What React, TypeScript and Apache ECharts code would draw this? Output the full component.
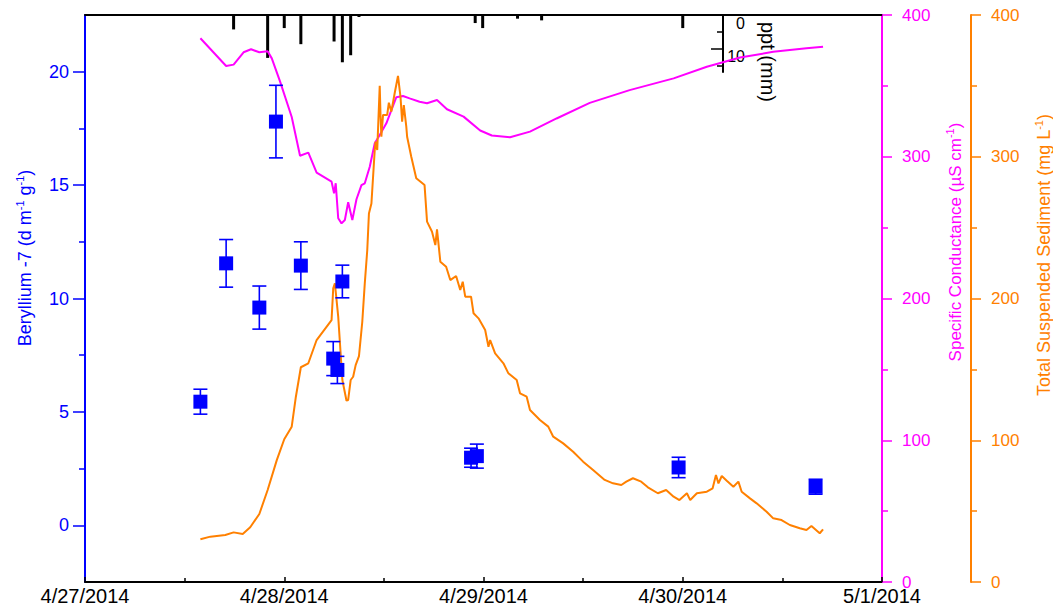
import React, { useEffect, useRef } from "react";
import * as echarts from "echarts";

// x values are hours since 4/27/2014 00:00
const dateLabels = ["4/27/2014", "4/28/2014", "4/29/2014", "4/30/2014", "5/1/2014"];

const beTime = [13.9, 17.0, 21.0, 23.0, 26.0, 29.9, 30.4, 31.0, 46.5, 47.2, 71.5, 88.0];
const beValue = [5.45, 11.55, 9.6, 17.8, 11.45, 7.35, 6.85, 10.75, 2.98, 3.05, 2.55, 1.7];
const beError = [0.55, 1.05, 0.95, 1.6, 1.05, 0.75, 0.6, 0.72, 0.42, 0.53, 0.45, 0.33];

const pptTime = [17.9, 22.0, 24.0, 26.0, 30.0, 31.0, 32.0, 33.0, 47.0, 47.9, 52.1, 55.0, 72.0];
const pptValue = [4.3, 12.8, 3.9, 8.7, 7.9, 14.1, 12.0, 0.6, 2.4, 3.9, 1.1, 1.6, 3.9];

const scTime = [13.9, 17.0, 17.9, 19.1, 20.0, 21.0, 22.0, 22.5, 23.5, 24.9, 25.9, 26.9, 27.9, 29.7, 30.0, 30.2, 30.5, 30.9, 31.3, 31.7, 32.2, 32.7, 33.3, 33.7, 34.3, 34.9, 35.5, 36.3, 37.5, 38.3, 39.1, 40.3, 41.2, 42.4, 43.6, 45.6, 47.6, 49.0, 51.2, 53.6, 56.8, 60.8, 65.6, 70.9, 74.9, 78.9, 82.9, 86.9, 88.9];
const scValue = [383.6, 364, 365, 373.7, 375.8, 373.7, 374.4, 369.4, 353, 328, 300.7, 302.9, 288.8, 282.4, 274.2, 281.3, 256.6, 253, 255.4, 267.9, 255.4, 270, 280, 281.3, 293, 309.5, 315.3, 323.6, 342, 342.9, 341.2, 338.8, 337.7, 340, 333.5, 328.3, 318.5, 315, 313.7, 317.7, 327, 338, 347, 355.3, 363.5, 370, 374, 376.5, 377.6];

const tssTime = [13.9, 15.1, 16.9, 17.9, 19.0, 19.9, 21.0, 22.0, 23.1, 24.0, 24.9, 25.4, 26.0, 26.9, 27.9, 29.7, 29.9, 30.1, 30.5, 31.0, 31.5, 31.7, 32.0, 32.3, 32.6, 33.0, 33.4, 33.7, 34.0, 34.2, 34.5, 34.9, 35.0, 35.2, 35.5, 35.6, 35.7, 35.9, 36.4, 36.6, 36.9, 37.3, 37.7, 38.0, 38.2, 38.4, 38.7, 38.8, 39.3, 39.9, 40.9, 41.2, 41.8, 42.2, 42.4, 42.8, 43.5, 44.0, 44.7, 45.2, 45.5, 45.8, 46.5, 46.8, 47.4, 48.2, 48.6, 48.8, 49.4, 50.4, 51.0, 52.0, 52.4, 53.2, 53.6, 54.8, 55.8, 56.4, 57.6, 58.8, 60.0, 61.2, 62.6, 63.6, 64.6, 65.2, 66.0, 67.0, 67.8, 69.0, 70.0, 70.9, 71.6, 72.5, 72.9, 73.7, 74.9, 75.6, 76.0, 76.3, 76.7, 77.3, 78.1, 78.7, 79.1, 80.1, 80.9, 82.1, 82.9, 83.9, 84.9, 86.1, 86.9, 87.5, 88.5, 88.9];
const tssValue = [30.1, 32, 33.2, 35, 33.9, 38.6, 48, 64.9, 86, 100.7, 109.6, 130.7, 151.5, 154.3, 170.7, 184.8, 207.2, 210.7, 187.2, 142.5, 127.9, 128.4, 142.5, 144.8, 153, 159.4, 183.6, 210.7, 234.2, 260, 267, 304.8, 310.6, 304.8, 350, 328.3, 314.1, 329.5, 329.5, 338.1, 331.8, 344.8, 357, 342.4, 324.7, 336.5, 321.2, 314.1, 300, 284.8, 280, 254.2, 247.1, 237.7, 248.8, 226, 222.4, 213, 215.9, 206, 211.8, 201.3, 201.3, 189.6, 186, 177.8, 166, 170.7, 161.3, 154.3, 147.2, 142.5, 133.1, 130.7, 121.3, 114.3, 109.6, 102.5, 97.8, 91.9, 84.9, 79, 72, 69.6, 68.4, 70.8, 73.2, 70.8, 66.8, 62.6, 64.9, 60.2, 57.8, 62.6, 57.8, 62.6, 63.7, 66.1, 75.5, 69.6, 74.8, 71.5, 67.2, 70.8, 63.7, 59, 55.5, 49.6, 44.9, 43.7, 40.2, 37.9, 36.7, 39.5, 34.4, 37.2];

const FONT = "'Liberation Sans', Arial, sans-serif";
const BLUE = "#0000ff";
const MAGENTA = "#ff00ff";
const ORANGE = "#ff8000";

export default function App() {
  const ref = useRef<HTMLDivElement>(null);
  useEffect(() => {
    if (!ref.current) return;
    const chart = echarts.init(ref.current, null, { renderer: "svg" });
    const zip = (a: number[], b: number[]) => a.map((t, i) => [t, b[i]]);
    const errData = beTime.map((t, i) => [t, beValue[i], beValue[i] - beError[i], beValue[i] + beError[i]]);
    const noZero = { onZero: false };
    const option: any = {
      animation: false,
      textStyle: { fontFamily: FONT },
      grid: [
        { left: 85, right: 171, top: 15, bottom: 24, outerBoundsMode: "none", containLabel: false },
        { left: 85, right: 171, top: 15, height: 57, outerBoundsMode: "none", containLabel: false },
      ],
      xAxis: [
        {
          type: "value", gridIndex: 0, min: 0, max: 96, interval: 24, position: "bottom",
          axisLine: { ...noZero, lineStyle: { color: "#000", width: 2 } },
          axisTick: { inside: true, length: 5, lineStyle: { color: "#000", width: 1.5 } },
          minorTick: { show: true, splitNumber: 2, length: 4, lineStyle: { color: "#000", width: 1.5 } },
          axisLabel: { color: "#000", fontSize: 20, fontFamily: FONT, margin: 4, formatter: (v: number) => dateLabels[Math.round(v / 24)] },
          splitLine: { show: false },
        },
        {
          type: "value", gridIndex: 0, min: 0, max: 96, position: "top",
          axisLine: { ...noZero, lineStyle: { color: "#000", width: 2 } },
          axisTick: { show: false }, axisLabel: { show: false }, splitLine: { show: false },
        },
        {
          type: "value", gridIndex: 1, min: 0, max: 96, position: "top",
          axisLine: { show: false, onZero: false }, axisTick: { show: false }, axisLabel: { show: false }, splitLine: { show: false },
        },
      ],
      yAxis: [
        {
          type: "value", gridIndex: 0, min: -2.5, max: 22.5, position: "left",
          axisLine: { show: true, ...noZero, lineStyle: { color: BLUE, width: 2 } },
          axisTick: { show: true, length: 12, customValues: [0, 5, 10, 15, 20], lineStyle: { color: BLUE, width: 1.5 } },
          axisLabel: { color: BLUE, fontSize: 18, fontFamily: FONT, margin: 16, customValues: [0, 5, 10, 15, 20] },
          splitLine: { show: false },
        },
        {
          type: "value", gridIndex: 0, min: -2.5, max: 22.5, position: "left",
          axisLine: { show: false, ...noZero },
          axisTick: { show: true, length: 6, customValues: [2.5, 7.5, 12.5, 17.5], lineStyle: { color: BLUE, width: 1.5 } },
          axisLabel: { show: false }, splitLine: { show: false },
        },
        {
          type: "value", gridIndex: 0, min: 0, max: 400, interval: 100, position: "right",
          axisLine: { show: true, ...noZero, lineStyle: { color: MAGENTA, width: 2 } },
          axisTick: { show: true, length: 10, lineStyle: { color: MAGENTA, width: 1.5 } },
          minorTick: { show: true, splitNumber: 2, length: 6, lineStyle: { color: MAGENTA, width: 1.5 } },
          axisLabel: { color: MAGENTA, fontSize: 17, fontFamily: FONT, margin: 20 },
          splitLine: { show: false },
        },
        {
          type: "value", gridIndex: 0, min: 0, max: 400, interval: 100, position: "right", offset: 89,
          axisLine: { show: true, ...noZero, lineStyle: { color: ORANGE, width: 2 } },
          axisTick: { show: true, length: 10, lineStyle: { color: ORANGE, width: 1.5 } },
          minorTick: { show: true, splitNumber: 2, length: 6, lineStyle: { color: ORANGE, width: 1.5 } },
          axisLabel: { color: ORANGE, fontSize: 17, fontFamily: FONT, margin: 20 },
          splitLine: { show: false },
        },
        {
          type: "value", gridIndex: 1, min: 0, max: 17, inverse: true, position: "right", offset: -159,
          axisLine: { show: true, ...noZero, lineStyle: { color: "#000", width: 2 } },
          axisTick: { show: true, inside: true, length: 12, customValues: [0, 10], lineStyle: { color: "#000", width: 1.5 } },
          axisLabel: { color: "#000", fontSize: 16, fontFamily: FONT, margin: 22, align: "right", verticalAlign: "top", customValues: [0, 10] },
          splitLine: { show: false },
        },
        {
          type: "value", gridIndex: 1, min: 0, max: 17, inverse: true, position: "right", offset: -159,
          axisLine: { show: false, ...noZero },
          axisTick: { show: true, inside: true, length: 6, customValues: [5, 15], lineStyle: { color: "#000", width: 1.5 } },
          axisLabel: { show: false }, splitLine: { show: false },
        },
      ],
      series: [
        {
          type: "bar", name: "ppt", xAxisIndex: 2, yAxisIndex: 4, barWidth: 3,
          itemStyle: { color: "#000" }, data: zip(pptTime, pptValue),
        },
        {
          type: "line", name: "Specific Conductance", xAxisIndex: 0, yAxisIndex: 2, showSymbol: false, symbol: "none",
          lineStyle: { color: MAGENTA, width: 2 }, data: zip(scTime, scValue), z: 3,
        },
        {
          type: "line", name: "TSS", xAxisIndex: 0, yAxisIndex: 3, showSymbol: false, symbol: "none",
          lineStyle: { color: ORANGE, width: 2 }, data: zip(tssTime, tssValue), z: 4,
        },
        {
          type: "custom", name: "Be-7 error", xAxisIndex: 0, yAxisIndex: 0, z: 5,
          encode: { x: 0, y: [1, 2, 3] },
          data: errData,
          renderItem: (params: any, api: any) => {
            const x = api.value(0);
            const hi = api.coord([x, api.value(3)]);
            const lo = api.coord([x, api.value(2)]);
            const hw = 7;
            const st = { stroke: BLUE, lineWidth: 1.6 };
            return {
              type: "group",
              children: [
                { type: "line", shape: { x1: hi[0], y1: hi[1], x2: lo[0], y2: lo[1] }, style: st },
                { type: "line", shape: { x1: hi[0] - hw, y1: hi[1], x2: hi[0] + hw, y2: hi[1] }, style: st },
                { type: "line", shape: { x1: lo[0] - hw, y1: lo[1], x2: lo[0] + hw, y2: lo[1] }, style: st },
              ],
            };
          },
        },
        {
          type: "scatter", name: "Be-7", xAxisIndex: 0, yAxisIndex: 0, symbol: "rect", symbolSize: 14, z: 6,
          itemStyle: { color: BLUE, opacity: 1 }, data: zip(beTime, beValue),
        },
      ],
      graphic: [
        {
          type: "text", x: 25, y: 258, rotation: Math.PI / 2,
          style: {
            text: "{n|Beryllium -7 (d m}{s|-1}{n| g}{s|-1}{n|)}",
            align: "center", verticalAlign: "middle",
            rich: {
              n: { fontSize: 18, fontFamily: FONT, fill: BLUE, lineHeight: 22 },
              s: { fontSize: 11, fontFamily: FONT, fill: BLUE, verticalAlign: "top", lineHeight: 22 },
            },
          },
        },
        {
          type: "text", x: 955, y: 242, rotation: Math.PI / 2,
          style: {
            text: "{n|Specific Conductance (µS cm}{s|-1}{n|)}",
            align: "center", verticalAlign: "middle",
            rich: {
              n: { fontSize: 17, fontFamily: FONT, fill: MAGENTA, lineHeight: 22 },
              s: { fontSize: 11, fontFamily: FONT, fill: MAGENTA, verticalAlign: "top", lineHeight: 22 },
            },
          },
        },
        {
          type: "text", x: 1044, y: 255, rotation: Math.PI / 2,
          style: {
            text: "{n|Total Suspended Sediment (mg L}{s|-1}{n|)}",
            align: "center", verticalAlign: "middle",
            rich: {
              n: { fontSize: 18, fontFamily: FONT, fill: ORANGE, lineHeight: 22 },
              s: { fontSize: 11, fontFamily: FONT, fill: ORANGE, verticalAlign: "top", lineHeight: 22 },
            },
          },
        },
        {
          type: "text", x: 768, y: 62, rotation: -Math.PI / 2,
          style: { text: "ppt (mm)", fontSize: 20, fontFamily: FONT, fill: "#000", align: "center", verticalAlign: "middle" },
        },
      ],
    };
    chart.setOption(option);
    return () => chart.dispose();
  }, []);
  return <div ref={ref} style={{ position: "fixed", left: 0, top: 0, width: 1053, height: 606, background: "#fff" }} />;
}
